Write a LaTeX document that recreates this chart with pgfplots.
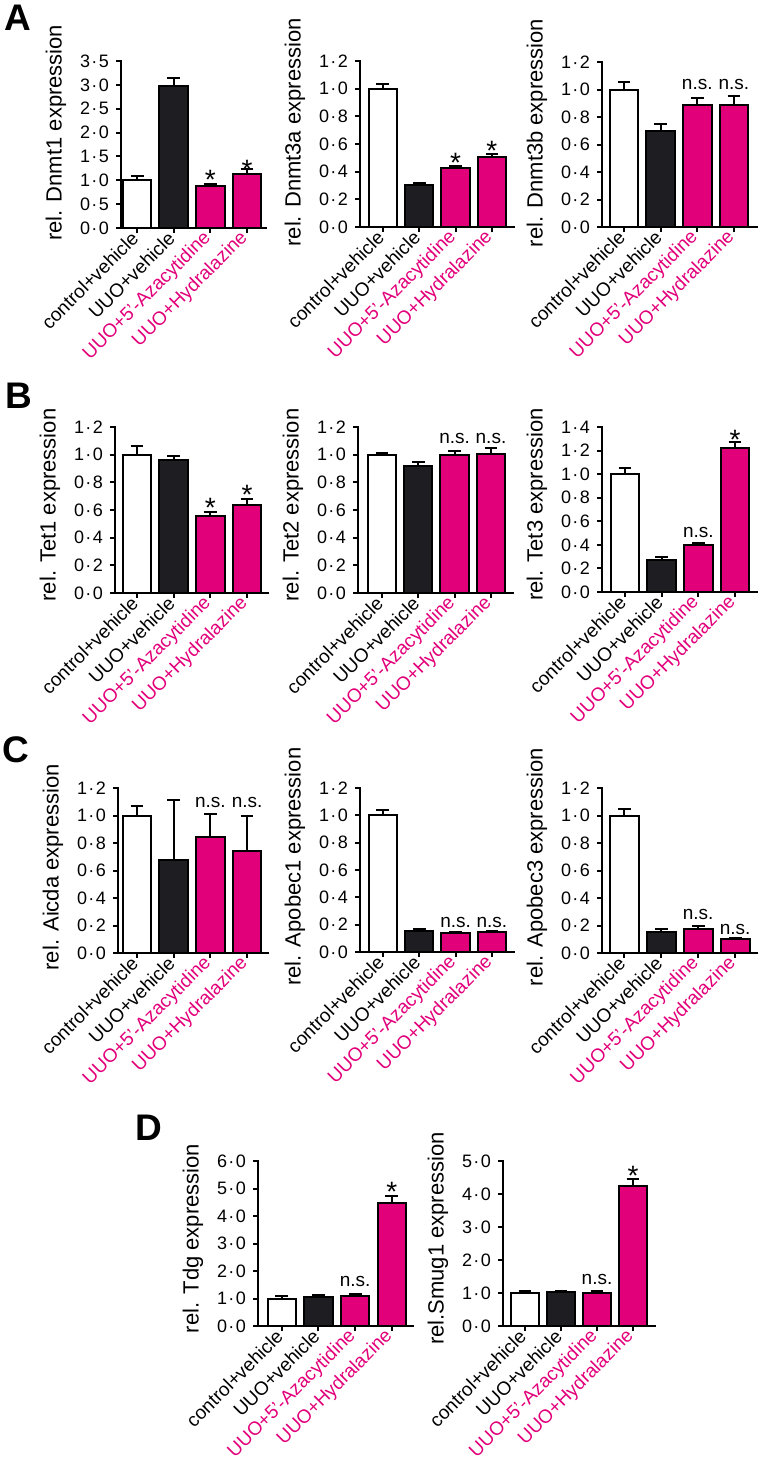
\documentclass[border=0pt]{standalone}
\usepackage{fontspec}
\setmainfont{Liberation Sans}
\usepackage{xcolor}
\usepackage{pgfplots}
\pgfplotsset{compat=1.18}
\definecolor{mag}{RGB}{226,0,122}
\definecolor{dark}{RGB}{30,29,33}

% 1 px of the reference = 0.5pt
\pgfplotsset{
  panel/.style={
    scale only axis, anchor=south west, clip=false,
    axis lines=left, axis line style={-, line width=1pt, line cap=rect},
    enlargelimits=false,
    tick align=outside, major tick length=2.5pt,
    every tick/.style={black, line width=1pt},
    ymin=0,
    xtick={0,1,2,3},
    xticklabels={control+vehicle, UUO+vehicle, \textcolor{mag}{UUO+5’-Azacytidine}, \textcolor{mag}{UUO+Hydralazine}},
    x tick label style={rotate=45, anchor=east, font=\fontsize{9.5}{10}\selectfont, inner sep=1.5pt},
    y tick label style={font=\fontsize{9}{9}\selectfont,
      /pgf/number format/fixed, /pgf/number format/fixed zerofill,
      /pgf/number format/precision=1,
      /pgf/number format/set decimal separator={\kern0.08em·\kern0.08em},
      /pgf/number format/assume math mode=true},
    ylabel style={font=\fontsize{11}{11}\selectfont},
  },
  mybar/.style={ybar, bar width=0.78, bar shift=0pt, draw=black, line width=1pt,
    /pgfplots/error bars/y dir=plus, /pgfplots/error bars/y explicit,
    /pgfplots/error bars/error bar style={line width=1pt, black},
    /pgfplots/error bars/error mark options={rotate=90, mark size=3.2pt, line width=1pt, black}},
}
\tikzset{
  sig/.style={font=\fontsize{14}{14}\selectfont, anchor=base, inner sep=0pt, yshift=-1.5pt},
  ns/.style={font=\fontsize{9.5}{9.5}\selectfont, anchor=base, inner sep=0pt},
  letter/.style={font=\fontsize{18.5}{18.5}\selectfont\bfseries, anchor=north west, inner sep=0pt},
}

\begin{document}
\begin{tikzpicture}
\path[use as bounding box] (0,0) rectangle (380pt,-732pt);

\node[letter] at (2pt,-2.5pt) {A};
\node[letter] at (2.5pt,-191.5pt) {B};
\node[letter] at (1pt,-368pt) {C};
\node[letter] at (67.5pt,-557.5pt) {D};

% ---- A ----
\begin{axis}[panel, at={(60.5pt,-114pt)}, width=72.5pt, height=83.5pt,
  xmin=-0.44, xmax=3.52, ymax=3.5, ytick={0,0.5,1,1.5,2,2.5,3,3.5},
  ylabel={rel. Dnmt1 expression}, ylabel style={at={(ticklabel cs:0.57)}}]
\addplot[mybar, fill=white] coordinates {(0,1.00) +- (0,0.10)};
\addplot[mybar, fill=dark] coordinates {(1,2.98) +- (0,0.16)};
\addplot[mybar, fill=mag] coordinates {(2,0.88) +- (0,0.05) (3,1.14) +- (0,0.10)};
\node[sig] at (2,0.876) {*};
\node[sig] at (3,1.07) {*};
\end{axis}

\begin{axis}[panel, at={(180pt,-113.5pt)}, width=76.85pt, height=83pt,
  xmin=-0.63, xmax=3.6, ymax=1.2, ytick={0,0.2,0.4,0.6,0.8,1.0,1.2},
  ylabel={rel. Dnmt3a expression}, ylabel style={at={(ticklabel cs:0.57)}}]
\addplot[mybar, fill=white] coordinates {(0,1.00) +- (0,0.035)};
\addplot[mybar, fill=dark] coordinates {(1,0.305) +- (0,0.015)};
\addplot[mybar, fill=mag] coordinates {(2,0.425) +- (0,0.015) (3,0.505) +- (0,0.022)};
\node[sig] at (2,0.415) {*};
\node[sig] at (3,0.506) {*};
\end{axis}

\begin{axis}[panel, at={(301pt,-113.5pt)}, width=77.5pt, height=82.5pt,
  xmin=-0.6, xmax=3.63, ymax=1.2, ytick={0,0.2,0.4,0.6,0.8,1.0,1.2},
  ylabel={rel. Dnmt3b expression}, ylabel style={at={(ticklabel cs:0.57)}}]
\addplot[mybar, fill=white] coordinates {(0,1.00) +- (0,0.055)};
\addplot[mybar, fill=dark] coordinates {(1,0.695) +- (0,0.055)};
\addplot[mybar, fill=mag] coordinates {(2,0.89) +- (0,0.05) (3,0.885) +- (0,0.065)};
\node[ns] at (2,1.0) {n.s.};
\node[ns] at (3,1.0) {n.s.};
\end{axis}

% ---- B ----
\begin{axis}[panel, at={(57.5pt,-296.5pt)}, width=76.5pt, height=83pt,
  xmin=-0.6, xmax=3.57, ymax=1.2, ytick={0,0.2,0.4,0.6,0.8,1.0,1.2},
  ylabel={rel. Tet1 expression}, ylabel style={at={(ticklabel cs:0.53)}}]
\addplot[mybar, fill=white] coordinates {(0,1.00) +- (0,0.065)};
\addplot[mybar, fill=dark] coordinates {(1,0.96) +- (0,0.03)};
\addplot[mybar, fill=mag] coordinates {(2,0.555) +- (0,0.03) (3,0.635) +- (0,0.045)};
\node[sig] at (2,0.567) {*};
\node[sig] at (3,0.658) {*};
\end{axis}

\begin{axis}[panel, at={(179pt,-296.5pt)}, width=77.4pt, height=83pt,
  xmin=-0.66, xmax=3.6, ymax=1.2, ytick={0,0.2,0.4,0.6,0.8,1.0,1.2},
  ylabel={rel. Tet2 expression}, ylabel style={at={(ticklabel cs:0.53)}}]
\addplot[mybar, fill=white] coordinates {(0,1.00) +- (0,0.01)};
\addplot[mybar, fill=dark] coordinates {(1,0.92) +- (0,0.025)};
\addplot[mybar, fill=mag] coordinates {(2,1.00) +- (0,0.03) (3,1.005) +- (0,0.045)};
\node[ns] at (2,1.08) {n.s.};
\node[ns] at (3,1.08) {n.s.};
\end{axis}

\begin{axis}[panel, at={(301pt,-296pt)}, width=77.5pt, height=82.5pt,
  xmin=-0.63, xmax=3.6, ymax=1.4, ytick={0,0.2,0.4,0.6,0.8,1.0,1.2,1.4},
  ylabel={rel. Tet3 expression}, ylabel style={at={(ticklabel cs:0.53)}}]
\addplot[mybar, fill=white] coordinates {(0,1.00) +- (0,0.05)};
\addplot[mybar, fill=dark] coordinates {(1,0.275) +- (0,0.02)};
\addplot[mybar, fill=mag] coordinates {(2,0.40) +- (0,0.015) (3,1.22) +- (0,0.05)};
\node[ns] at (2,0.46) {n.s.};
\node[sig] at (3,1.237) {*};
\end{axis}

% ---- C ----
\begin{axis}[panel, at={(59pt,-476.5pt)}, width=75pt, height=82.5pt,
  xmin=-0.52, xmax=3.57, ymax=1.2, ytick={0,0.2,0.4,0.6,0.8,1.0,1.2},
  ylabel={rel. Aicda expression}, ylabel style={at={(ticklabel cs:0.52)}}]
\addplot[mybar, fill=white] coordinates {(0,1.00) +- (0,0.07)};
\addplot[mybar, fill=dark] coordinates {(1,0.675) +- (0,0.44)};
\addplot[mybar, fill=mag] coordinates {(2,0.845) +- (0,0.165) (3,0.745) +- (0,0.255)};
\node[ns] at (2,1.057) {n.s.};
\node[ns] at (3,1.057) {n.s.};
\end{axis}

\begin{axis}[panel, at={(180pt,-476pt)}, width=76.85pt, height=82pt,
  xmin=-0.63, xmax=3.6, ymax=1.2, ytick={0,0.2,0.4,0.6,0.8,1.0,1.2},
  ylabel={rel. Apobec1 expression}, ylabel style={at={(ticklabel cs:0.52)}}]
\addplot[mybar, fill=white] coordinates {(0,1.00) +- (0,0.04)};
\addplot[mybar, fill=dark] coordinates {(1,0.155) +- (0,0.01)};
\addplot[mybar, fill=mag] coordinates {(2,0.14) +- (0,0.008) (3,0.15) +- (0,0.005)};
\node[ns] at (2,0.178) {n.s.};
\node[ns] at (3,0.178) {n.s.};
\end{axis}

\begin{axis}[panel, at={(301pt,-476.5pt)}, width=77.7pt, height=82.5pt,
  xmin=-0.6, xmax=3.6, ymax=1.2, ytick={0,0.2,0.4,0.6,0.8,1.0,1.2},
  ylabel={rel. Apobec3 expression}, ylabel style={at={(ticklabel cs:0.52)}}]
\addplot[mybar, fill=white] coordinates {(0,1.00) +- (0,0.045)};
\addplot[mybar, fill=dark] coordinates {(1,0.15) +- (0,0.025)};
\addplot[mybar, fill=mag] coordinates {(2,0.175) +- (0,0.02) (3,0.10) +- (0,0.01)};
\node[ns] at (2,0.242) {n.s.};
\node[ns] at (3,0.133) {n.s.};
\end{axis}

% ---- D ----
\begin{axis}[panel, at={(129pt,-663pt)}, width=77.35pt, height=82.5pt,
  xmin=-0.65, xmax=3.57, ymax=6, ytick={0,1,2,3,4,5,6},
  ylabel={rel. Tdg expression}, ylabel style={at={(ticklabel cs:0.53)}}]
\addplot[mybar, fill=white] coordinates {(0,1.00) +- (0,0.08)};
\addplot[mybar, fill=dark] coordinates {(1,1.05) +- (0,0.06)};
\addplot[mybar, fill=mag] coordinates {(2,1.10) +- (0,0.07) (3,4.48) +- (0,0.25)};
\node[ns] at (2,1.44) {n.s.};
\node[sig] at (3,4.62) {*};
\end{axis}

\begin{axis}[panel, at={(251.5pt,-663pt)}, width=76pt, height=82.5pt,
  xmin=-0.61, xmax=3.61, ymax=5, ytick={0,1,2,3,4,5},
  ylabel={rel.Smug1 expression}, ylabel style={at={(ticklabel cs:0.53)}}]
\addplot[mybar, fill=white] coordinates {(0,1.00) +- (0,0.05)};
\addplot[mybar, fill=dark] coordinates {(1,1.02) +- (0,0.05)};
\addplot[mybar, fill=mag] coordinates {(2,1.00) +- (0,0.05) (3,4.23) +- (0,0.22)};
\node[ns] at (2,1.25) {n.s.};
\node[sig] at (3,4.36) {*};
\end{axis}
\end{tikzpicture}
\end{document}
